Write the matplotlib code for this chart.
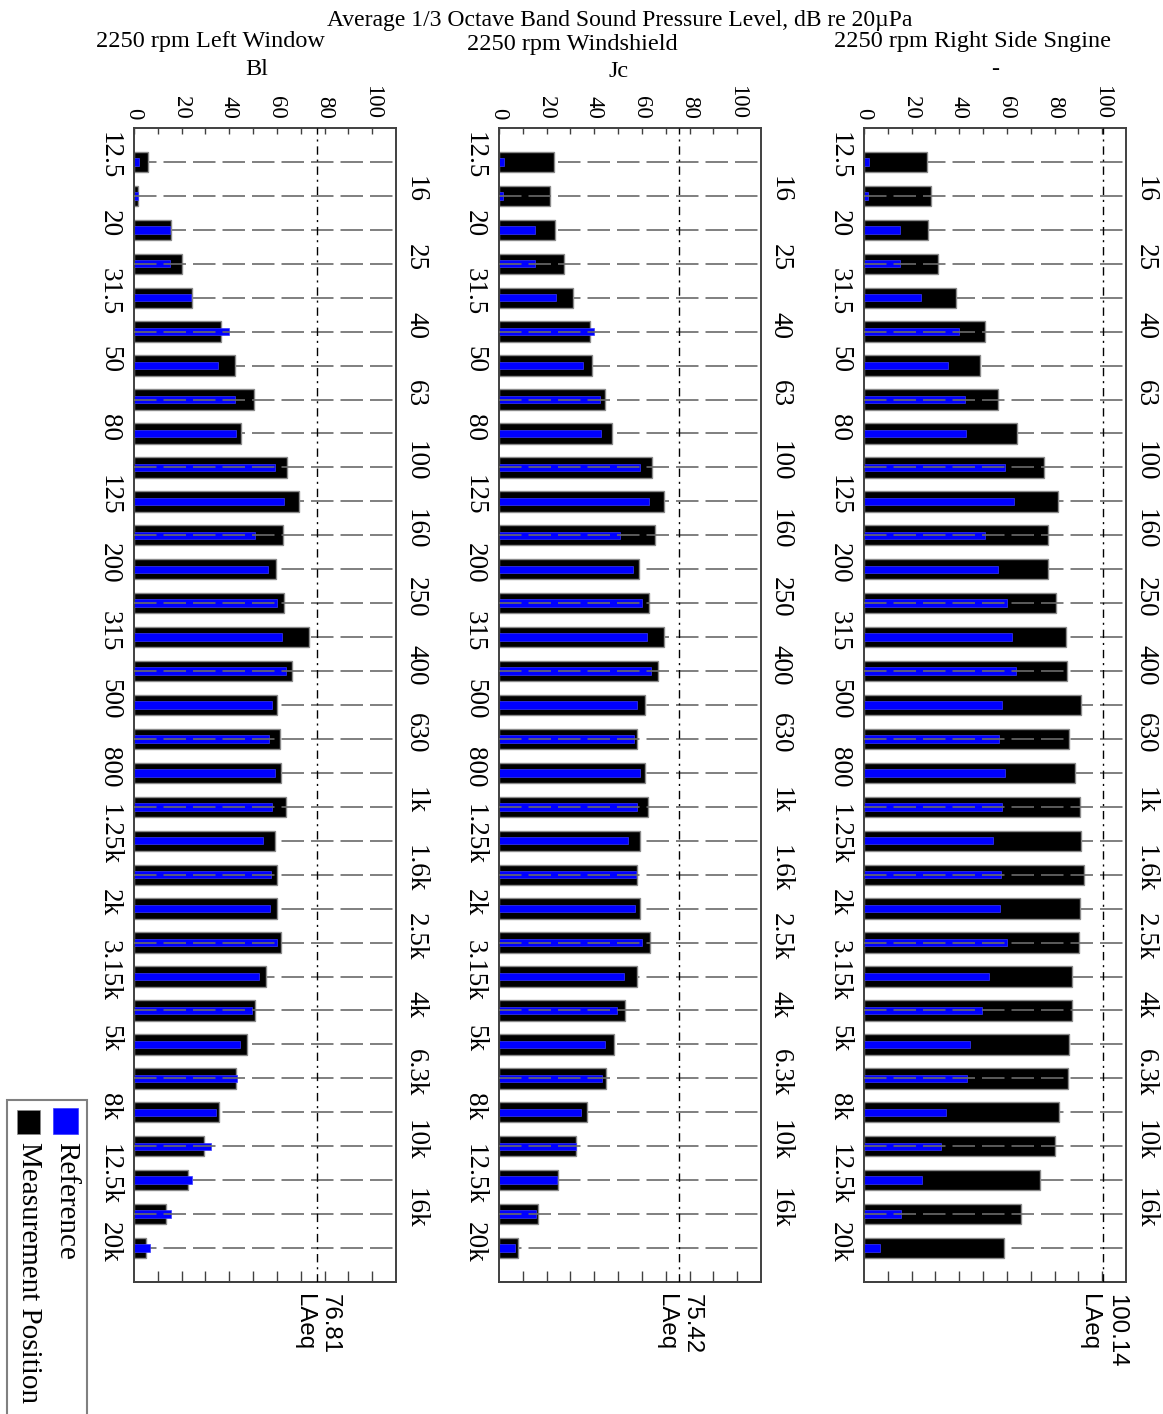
import matplotlib
matplotlib.use('Agg')
import matplotlib.pyplot as plt
from matplotlib.patches import Rectangle
from matplotlib.transforms import blended_transform_factory, ScaledTranslation
import numpy as np

# ---------------- data ----------------
bands = ['12.5', '16', '20', '25', '31.5', '40', '50', '63', '80', '100', '125',
         '160', '200', '250', '315', '400', '500', '630', '800', '1k', '1.25k',
         '1.6k', '2k', '2.5k', '3.15k', '4k', '5k', '6.3k', '8k', '10k', '12.5k',
         '16k', '20k']

reference = [2.1, 1.6, 15.1, 15.3, 24.0, 39.8, 35.3, 42.5, 42.7, 59.4, 63.0,
             50.9, 56.3, 60.2, 62.0, 63.7, 57.9, 56.8, 59.4, 57.9, 54.3,
             57.5, 57.0, 60.0, 52.5, 49.5, 44.5, 43.2, 34.5, 32.2, 24.3,
             15.5, 6.7]

left_window = [5.7, 1.7, 15.4, 20.2, 24.2, 36.4, 42.4, 50.5, 44.8, 64.2, 69.1,
               62.7, 59.5, 63.1, 73.6, 66.3, 60.2, 61.2, 61.9, 64.0, 59.1,
               60.2, 60.2, 61.9, 55.4, 50.9, 47.3, 42.8, 35.5, 29.5, 22.7,
               13.3, 4.9]

windshield = [23.1, 21.4, 23.5, 27.4, 31.1, 38.3, 39.2, 44.4, 47.3, 64.2, 69.1,
              65.5, 58.6, 63.1, 69.4, 66.8, 61.4, 57.9, 61.4, 62.7, 59.1,
              57.9, 59.1, 63.5, 57.9, 53.0, 48.4, 44.9, 36.8, 32.3, 24.6,
              16.2, 8.1]

right_side = [26.3, 28.3, 26.7, 31.2, 38.5, 50.9, 48.6, 56.1, 64.2, 75.6, 81.6,
              77.3, 77.3, 80.5, 85.0, 85.2, 91.3, 86.1, 88.6, 90.6, 91.3,
              92.5, 90.6, 90.1, 87.3, 87.3, 86.1, 85.7, 82.0, 80.3, 73.9,
              65.9, 58.9]

laeq = [76.81, 75.42, 100.14]
panel_titles = ['2250 rpm Left Window', '2250 rpm Windshield', '2250 rpm Right Side Sngine']
panel_codes = ['Bl', 'Jc', '-']
value_ticks = [0, 20, 40, 60, 80, 100]
minor_ticks = [10, 30, 50, 70, 90]
main_title = 'Average 1/3 Octave Band Sound Pressure Level, dB re 20\u00b5Pa'
legend_labels = ['Reference', 'Measurement Position']

measurements = [left_window, windshield, right_side]

# ---------------- layout ----------------
W, H = 1163, 1414
plt.rcParams['font.family'] = ['Liberation Serif', 'DejaVu Serif']
fig = plt.figure(figsize=(W / 100, H / 100), dpi=100)


def fx(px):
    return px / W


def fy(py):
    return 1 - py / H


panel_left = [134, 499, 864]
ax_w = 262
ax_top, ax_bot = 128, 1282
grid_col = '#6a6a6a'
spine_col = '#404040'
grid_ls = (0, (13.5, 4.2))

y = np.arange(len(bands))

for i in range(3):
    ax = fig.add_axes([fx(panel_left[i]), fy(ax_bot), ax_w / W, (ax_bot - ax_top) / H])
    meas = measurements[i]
    # gridlines: even rows behind the bars, odd rows on top
    ax.hlines(y[::2], 0, 110, colors=grid_col, linestyles=grid_ls, lw=1.2, zorder=1)
    ax.hlines(y[1::2], 0, 110, colors=grid_col, linestyles=grid_ls, lw=1.2, zorder=3)
    ax.barh(y, meas, height=0.6, color='black', edgecolor='#8a8a8a', lw=1.0, zorder=2)
    ax.barh(y, reference, height=0.22, color='#0000ff', edgecolor='#3a3aff', lw=0.5, zorder=2.5)
    ax.axvline(laeq[i], color='black', lw=1.0, ls=(0, (6, 3.5, 1.5, 3.5)), zorder=4)

    ax.set_xlim(0, 110)
    ax.set_ylim(33, -1)
    ax.set_yticks([])
    ax.tick_params(axis='y', left=False, right=False)

    ax.set_xticks(value_ticks)
    ax.set_xticklabels([str(v) for v in value_ticks])
    ax.set_xticks(minor_ticks, minor=True)
    ax.xaxis.tick_top()
    ax.tick_params(axis='x', which='both', direction='in', length=4.3, width=1.0,
                   color=spine_col, top=True, bottom=False, labeltop=True,
                   labelbottom=False, pad=6.5, labelsize=16.5, labelrotation=-90)
    sec = ax.secondary_xaxis('bottom')
    sec.set_xticks(value_ticks[1:] + minor_ticks)
    sec.tick_params(axis='x', direction='in', length=8.0, width=1.0, color=spine_col,
                    labelbottom=False)
    sec.spines['bottom'].set_color(spine_col)
    sec.spines['bottom'].set_linewidth(1.4)
    for s in ax.spines.values():
        s.set_color(spine_col)
        s.set_linewidth(1.4)

    # category labels
    up = ScaledTranslation(0, 0.06, fig.dpi_scale_trans)
    trans = blended_transform_factory(ax.transAxes, ax.transData) + up
    for k, lab in enumerate(bands):
        if k % 2 == 0:
            ax.text(-12 / ax_w, k, lab, transform=trans, rotation=-90, ha='right',
                    va='center', fontsize=19.5)
        else:
            ax.text(1 + 7 / ax_w, k, lab, transform=trans, rotation=-90, ha='left',
                    va='center', fontsize=19.5)

    # LAeq annotation
    tr2 = blended_transform_factory(ax.transData, ax.transAxes)
    ax.text(laeq[i], -12 / (ax_bot - ax_top), f'{laeq[i]:.2f}\nLAeq', transform=tr2,
            rotation=-90, ha='center', va='top', multialignment='left',
            fontsize=17.3, family=['Liberation Sans', 'DejaVu Sans'], linespacing=1.25)

# titles
fig.text(fx(619.5), fy(26), main_title, ha='center', va='baseline', fontsize=17)
line1_x = [210.5, 572.5, 972.5]
line1_y = [47, 50, 47]
line2_x = [257, 619, 995]
line2_y = [75, 77, 75]
for i in range(3):
    fig.text(fx(line1_x[i]), fy(line1_y[i]), panel_titles[i], ha='center', va='baseline', fontsize=17.5)
    fig.text(fx(line2_x[i]), fy(line2_y[i]), panel_codes[i], ha='center', va='baseline', fontsize=17.5)

# legend (rotated)
fig.add_artist(Rectangle((fx(7), fy(1430)), 80 / W, 330 / H, transform=fig.transFigure,
                         fill=False, edgecolor='#808080', lw=1.5))
fig.add_artist(Rectangle((fx(53), fy(1134)), 25 / W, 26 / H, transform=fig.transFigure,
                         facecolor='#0000ff', edgecolor='#3a3aff', lw=0.5))
fig.add_artist(Rectangle((fx(17), fy(1134)), 23 / W, 24 / H, transform=fig.transFigure,
                         facecolor='black', edgecolor='#8a8a8a', lw=0.5))
fig.text(fx(66), fy(1142), legend_labels[0], rotation=-90, ha='center', va='top', fontsize=21)
fig.text(fx(29), fy(1142), legend_labels[1], rotation=-90, ha='center', va='top', fontsize=21)

fig.savefig('out.png', dpi=100)
